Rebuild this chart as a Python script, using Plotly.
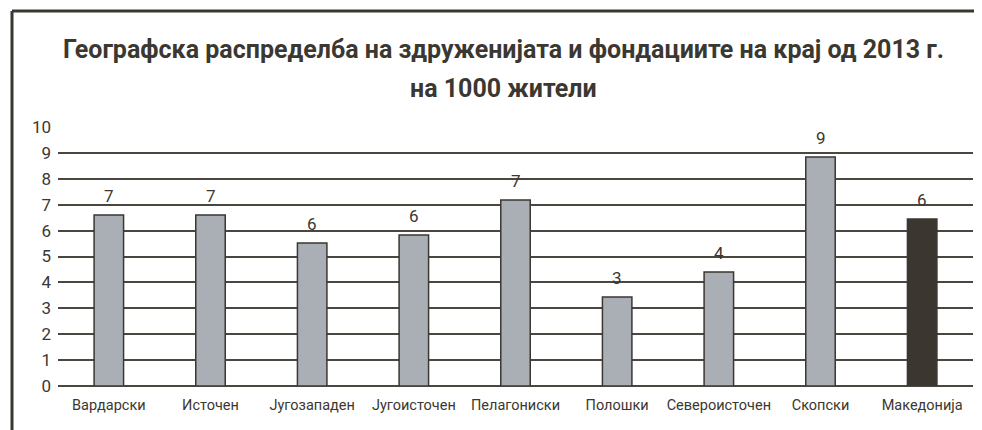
import plotly.graph_objects as go

regions = ['Вардарски', 'Источен', 'Југозападен', 'Југоисточен', 'Пелагониски',
           'Полошки', 'Североисточен', 'Скопски', 'Македонија']
values = [6.6, 6.6, 5.52, 5.83, 7.18, 3.44, 4.4, 8.84, 6.45]
labels = ['7', '7', '6', '6', '7', '3', '4', '9', '6']
y_ticks = list(range(0, 11))
title_lines = ['Географска распределба на здруженијата и фондациите на крај од 2013 г.', 'на 1000 жители']

dark = '#3b3731'
colors = ['#aaaeb5'] * 8 + ['#3b3630']
font = 'Roboto, sans-serif'

# page is shown with an 8px body offset, so everything is placed 8px up/left
off = 8
L, T, B, R = 58 - off, 127 - off, 44 + off, 9 + off
ph = 430 - T - B
pw = 982 - L - R

fig = go.Figure()
fig.add_trace(go.Bar(x=regions, y=values,
                     marker=dict(color=colors, line=dict(color=dark, width=1.5)),
                     width=0.29, hoverinfo='x+y'))

# value labels above bars
for r, v, t in zip(regions, values, labels):
    fig.add_annotation(x=r, y=v, text=t, showarrow=False, yanchor='bottom', yshift=7,
                       font=dict(size=17, color=dark, family=font))

# two-line title
for line, yy in zip(title_lines, [50, 88]):
    fig.add_annotation(xref='paper', yref='paper', x=(503 - off - L) / pw, y=(T + ph - (yy - off)) / ph,
                       xanchor='center', yanchor='middle', text='<b>' + line + '</b>', showarrow=False,
                       font=dict(size=25, color=dark, family=font))

fig.update_layout(
    width=982, height=430,
    margin=dict(l=L, r=R, t=T, b=B),
    paper_bgcolor='white', plot_bgcolor='white',
    showlegend=False,
    font=dict(family=font, color=dark),
    xaxis=dict(showgrid=False, showline=False, ticks='', tickfont=dict(size=14.5, color=dark),
               ticklabelstandoff=8),
    yaxis=dict(range=[0, 10], tickvals=y_ticks, showgrid=True, gridcolor='#4a4640', gridwidth=2,
               zeroline=True, zerolinecolor='#4a4640', zerolinewidth=2,
               tickfont=dict(size=17, color=dark), ticklabelstandoff=6),
)

# frame: top and left border
x_frame = (12 - off - L) / pw
y_top = (T + ph - (11 - off)) / ph
fig.add_shape(type='line', xref='paper', yref='paper', x0=x_frame, x1=(978 - off - L) / pw,
              y0=y_top, y1=y_top, line=dict(color=dark, width=3))
fig.add_shape(type='line', xref='paper', yref='paper', x0=x_frame, x1=x_frame,
              y0=y_top, y1=-B / ph - 0.05, line=dict(color=dark, width=3))

fig.write_html("out.html")
